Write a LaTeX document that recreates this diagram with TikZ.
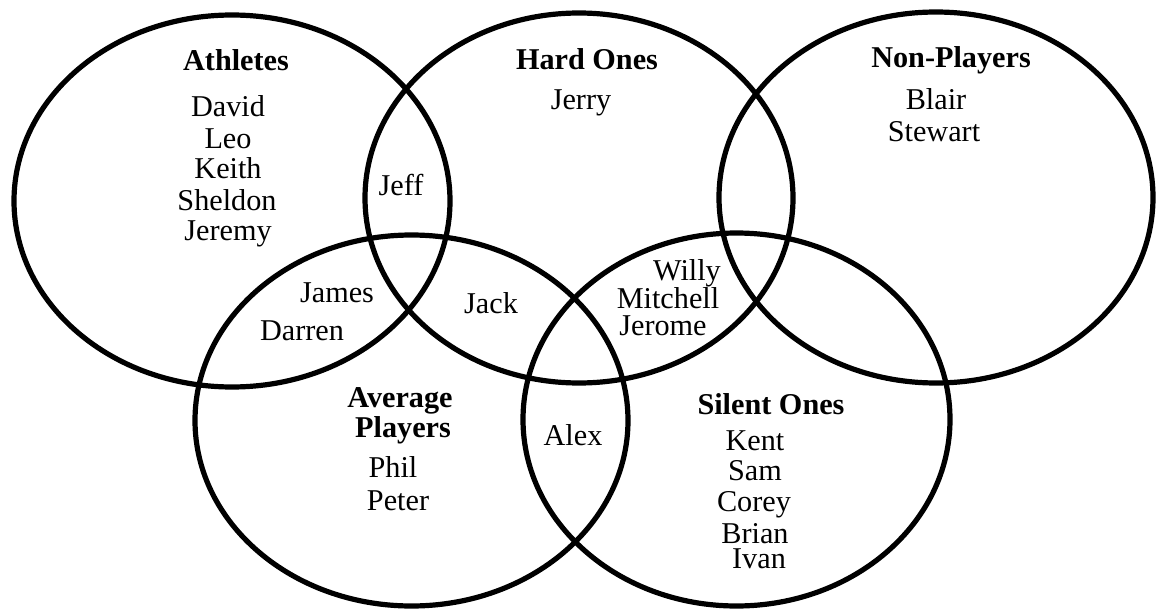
\documentclass[tikz,border=0pt]{standalone}
\usepackage{fontspec}
\setmainfont{Liberation Serif}
\begin{document}
\begin{tikzpicture}[x=0.05cm,y=-0.05cm,
  ring/.style={line width=0.26cm, black},
  nm/.style={anchor=base, inner sep=0pt, font=\fontsize{43}{48}\selectfont},
  hd/.style={nm, font=\fontsize{43}{48}\selectfont\bfseries}]
\useasboundingbox (0,0) rectangle (1156,610);
% sets
\draw[ring] (232,201) ellipse (218 and 186);
\draw[ring] (579,198) ellipse (214 and 185);
\draw[ring] (936,197.5) ellipse (217 and 185.5);
\draw[ring] (411.5,420.5) ellipse (216.5 and 185.5);
\draw[ring] (736.5,419.5) ellipse (213.5 and 186.5);
% Athletes
\node[hd] (tA) at (236,71) {Athletes};
\node[nm] (a1) at (228,117) {David};
\node[nm] (a2) at (228,148) {Leo};
\node[nm] (a3) at (228,178) {Keith};
\node[nm] (a4) at (227,210) {Sheldon};
\node[nm] (a5) at (228,240) {Jeremy};
% Hard Ones
\node[hd] (tH) at (587,70) {Hard Ones};
\node[nm] (h1) at (581,110) {Jerry};
% Non-Players
\node[hd] (tN) at (951,68) {Non-Players};
\node[nm] (n1) at (936,110) {Blair};
\node[nm] (n2) at (934,142) {Stewart};
% intersections
\node[nm] (x1) at (401,195) {Jeff};
\node[nm] (x2) at (337,302) {James};
\node[nm] (x3) at (302,340) {Darren};
\node[nm] (x4) at (491,313) {Jack};
\node[nm] (x5) at (687,280) {Willy};
\node[nm] (x6) at (668,308) {Mitchell};
\node[nm] (x7) at (663,335) {Jerome};
\node[nm] (x8) at (573,445) {Alex};
% Average Players
\node[hd] (tV1) at (400,407) {Average};
\node[hd] (tV2) at (403,437) {Players};
\node[nm] (v1) at (393,477) {Phil};
\node[nm] (v2) at (398,510) {Peter};
% Silent Ones
\node[hd] (tS) at (771,414) {Silent Ones};
\node[nm] (s1) at (755,450) {Kent};
\node[nm] (s2) at (755,480) {Sam};
\node[nm] (s3) at (754,511) {Corey};
\node[nm] (s4) at (755,543) {Brian};
\node[nm] (s5) at (759,568) {Ivan};
\end{tikzpicture}
\end{document}
